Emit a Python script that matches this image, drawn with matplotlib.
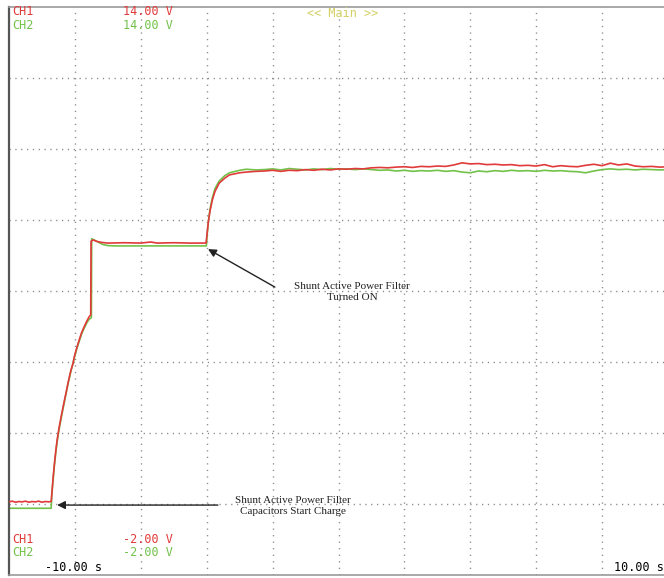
import matplotlib
matplotlib.use("Agg")
import matplotlib.pyplot as plt

# scope screen: 10 x 2 s horizontal, 8 x 2 V vertical
T_MIN, T_MAX = -10.0, 10.0
V_MIN, V_MAX = -2.0, 14.0

RED = "#e03a3a"
GREEN = "#72c24a"

# CH1 trace (time in s, voltage in V)
ch1_t = [-10.0, -9.9, -9.8, -9.7, -9.6, -9.5, -9.4, -9.3, -9.2, -9.1, -9.0, -8.9, -8.8, -8.72,
         -8.70, -8.66, -8.62, -8.58, -8.54, -8.48, -8.42, -8.34, -8.27, -8.20, -8.12, -8.06,
         -8.02, -7.95, -7.87, -7.80, -7.72, -7.64, -7.57, -7.52,
         -7.51, -7.45, -7.35, -7.2, -7.0, -6.5, -6.0, -5.7, -5.5, -5.0, -4.5, -4.02,
         -3.99, -3.95, -3.90, -3.83, -3.75, -3.62, -3.45, -3.31, -3.0, -2.8, -2.5,
         -2.25, -2.0, -1.75, -1.5, -1.25, -1.0, -0.75, -0.5, -0.25, 0.0, 0.25, 0.5, 0.75,
         1.0, 1.25, 1.5, 1.75, 2.0, 2.25, 2.5, 2.75, 3.0, 3.25, 3.5, 3.75, 4.0, 4.25, 4.5,
         4.75, 5.0, 5.25, 5.5, 5.75, 6.0, 6.25, 6.5, 6.75, 7.0, 7.25, 7.5, 7.75, 8.0, 8.25,
         8.5, 8.75, 9.0, 9.25, 9.5, 9.75, 10.0]
ch1_v = [0.06, 0.08, 0.05, 0.07, 0.06, 0.08, 0.05, 0.07, 0.06, 0.08, 0.05, 0.07, 0.06, 0.07,
         0.30, 0.75, 1.15, 1.50, 1.80, 2.15, 2.45, 2.82, 3.13, 3.45, 3.77, 3.95,
         4.14, 4.38, 4.62, 4.82, 4.99, 5.15, 5.27, 5.33,
         7.40, 7.44, 7.40, 7.37, 7.35, 7.36, 7.35, 7.38, 7.35, 7.36, 7.35, 7.35,
         7.60, 7.95, 8.25, 8.56, 8.80, 9.04, 9.18, 9.27, 9.33, 9.35, 9.37,
         9.38, 9.40, 9.37, 9.40, 9.39, 9.42, 9.40, 9.43, 9.41, 9.44, 9.43, 9.45, 9.44,
         9.47, 9.48, 9.47, 9.49, 9.50, 9.48, 9.51, 9.50, 9.52, 9.51, 9.55, 9.61, 9.58, 9.59, 9.56,
         9.57, 9.55, 9.56, 9.53, 9.54, 9.52, 9.56, 9.50, 9.53, 9.51, 9.50, 9.54, 9.57, 9.53, 9.60,
         9.55, 9.58, 9.52, 9.50, 9.51, 9.49, 9.50]

# CH2 trace
ch2_t = [-10.0, -8.72,
         -8.70, -8.66, -8.62, -8.58, -8.54, -8.48, -8.42, -8.34, -8.27, -8.20, -8.12,
         -8.02, -7.95, -7.87, -7.80, -7.72, -7.64, -7.57, -7.50,
         -7.49, -7.42, -7.3, -7.15, -7.0, -6.8, -6.0, -5.0, -4.01,
         -3.99, -3.95, -3.90, -3.83, -3.75, -3.62, -3.45, -3.31, -3.0, -2.8, -2.5,
         -2.25, -2.0, -1.75, -1.5, -1.25, -1.0, -0.75, -0.5, -0.25, 0.0, 0.25, 0.5, 0.75,
         1.0, 1.25, 1.5, 1.75, 2.0, 2.25, 2.5, 2.75, 3.0, 3.25, 3.5, 3.75, 4.0, 4.25, 4.5,
         4.75, 5.0, 5.25, 5.5, 5.75, 6.0, 6.25, 6.5, 6.75, 7.0, 7.25, 7.5, 7.75, 8.0, 8.25,
         8.5, 8.75, 9.0, 9.25, 9.5, 9.75, 10.0]
ch2_v = [-0.12, -0.12,
         0.25, 0.70, 1.10, 1.45, 1.75, 2.10, 2.40, 2.78, 3.10, 3.42, 3.74,
         4.10, 4.35, 4.58, 4.78, 4.95, 5.10, 5.20, 5.25,
         7.47, 7.44, 7.38, 7.31, 7.28, 7.27, 7.27, 7.27, 7.27,
         7.55, 7.95, 8.30, 8.62, 8.88, 9.10, 9.25, 9.33, 9.40, 9.43, 9.41,
         9.42, 9.44, 9.41, 9.45, 9.43, 9.41, 9.44, 9.42, 9.45, 9.43, 9.44, 9.42, 9.44,
         9.42, 9.40, 9.41, 9.38, 9.40, 9.37, 9.39, 9.38, 9.40, 9.37, 9.39, 9.35, 9.33, 9.38, 9.36,
         9.39, 9.37, 9.40, 9.38, 9.39, 9.37, 9.40, 9.38, 9.39, 9.37, 9.36, 9.33, 9.38, 9.42, 9.44,
         9.42, 9.43, 9.41, 9.43, 9.42, 9.41, 9.42]

# screen readouts
ch_names = ["CH1", "CH2"]
ch_colors = [RED, GREEN]
top_scale = ["14.00 V", "14.00 V"]
bottom_scale = ["-2.00 V", "-2.00 V"]
time_left = "-10.00 s"
time_right = "10.00 s"

fig = plt.figure(figsize=(6.64, 5.78), dpi=100)
ax = fig.add_axes([9 / 664, 3 / 578, 659 / 664, 568 / 578])
ax.set_xlim(T_MIN, T_MAX)
ax.set_ylim(V_MIN, V_MAX)
ax.set_xticks([])
ax.set_yticks([])

# dotted graticule
for gx in range(-8, 10, 2):
    ax.axvline(gx, color="#8a8a8a", lw=1.0, ls=(0, (0.9, 3.8)), zorder=1)
for gy in range(0, 14, 2):
    ax.axhline(gy, color="#8a8a8a", lw=1.0, ls=(0, (0.9, 3.3)), zorder=1)

ax.spines["left"].set_color("#555555")
ax.spines["left"].set_linewidth(1.6)
for side in ["top", "bottom", "right"]:
    ax.spines[side].set_color("#9a9a9a")
    ax.spines[side].set_linewidth(1.2)

ax.plot(ch1_t, ch1_v, color=RED, lw=1.2, zorder=3)
ax.plot(ch2_t, ch2_v, color=GREEN, lw=1.2, zorder=2)

mono = dict(family="DejaVu Sans Mono", fontsize=8.5)
for i, (name, col) in enumerate(zip(ch_names, ch_colors)):
    ax.text(-9.91, 13.86 - 0.37 * i, name, color=col, va="center", ha="left", **mono)
    ax.text(-6.54, 13.86 - 0.37 * i, top_scale[i], color=col, va="center", ha="left", **mono)
    ax.text(-9.91, -1.01 - 0.37 * i, name, color=col, va="center", ha="left", **mono)
    ax.text(-6.54, -1.01 - 0.37 * i, bottom_scale[i], color=col, va="center", ha="left", **mono)
ax.text(0.14, 13.83, "<< Main >>", color="#d4d064", va="center", ha="center", **mono)
ax.text(-8.91, -1.80, time_left, color="black", va="center", ha="left", **mono)
ax.text(9.88, -1.80, time_right, color="black", va="center", ha="right", **mono)

# event notes
serif = dict(family="Liberation Serif", fontsize=8, color="#222222",
             ha="center", va="center", linespacing=1.25)
arrow = dict(arrowstyle="-|>", color="#222222", lw=1.0, mutation_scale=12,
             shrinkA=0, shrinkB=0)
ax.annotate("", xy=(-3.96, 7.18), xytext=(-1.93, 6.11), arrowprops=arrow, zorder=4)
ax.text(0.41, 5.97, "Shunt Active Power Filter\nTurned ON", **serif)
ax.annotate("", xy=(-8.54, -0.03), xytext=(-3.66, -0.03), arrowprops=arrow, zorder=4)
ax.text(-1.38, -0.06, "Shunt Active Power Filter\nCapacitors Start Charge", **serif)

fig.savefig("out.png", dpi=100)
